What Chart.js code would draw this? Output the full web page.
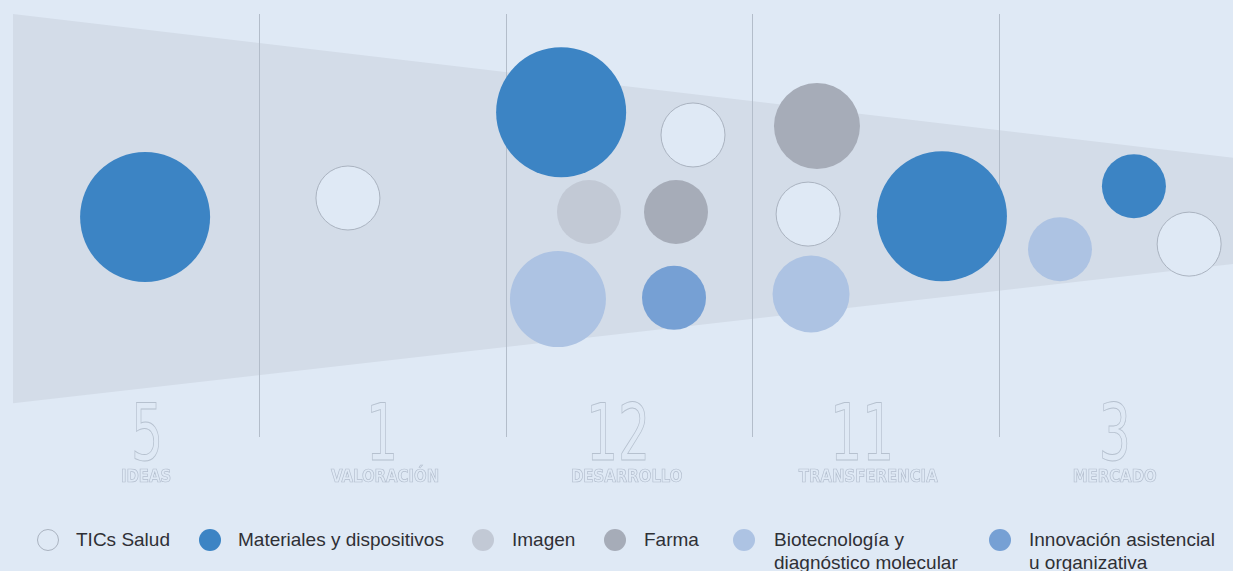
<!DOCTYPE html>
<html><head><meta charset="utf-8">
<script src="https://cdn.jsdelivr.net/npm/chart.js@4.4.1/dist/chart.umd.min.js"></script>
<style>
html,body{margin:0;padding:0;background:#dfe9f5;width:1233px;height:571px;overflow:hidden;}
#wrap{position:relative;width:1233px;height:571px;}
#c{position:absolute;left:0;top:0;}
.lg{position:absolute;font-family:"Liberation Sans",Arial,sans-serif;font-size:19px;line-height:23px;color:#2f3035;white-space:nowrap;}
.mk{position:absolute;width:22px;height:22px;border-radius:50%;box-sizing:border-box;}
</style></head><body>
<div id="wrap"><canvas id="c" width="1233" height="500"></canvas><div id="legend"></div></div>
<script>
// ---- data ----
const stageNames = ['IDEAS','VALORACIÓN','DESARROLLO','TRANSFERENCIA','MERCADO'];
const stageTotals = [5,1,12,11,3];
const stageLabelX = [0.54,1.51,2.49,3.47,4.47];
const stageNumberX = [0.544,1.497,2.455,3.445,4.471];
const dividerX = [1,2,3,4];
const seriesNames = ['TICs Salud','Materiales y dispositivos','Imagen','Farma',['Biotecnología y','diagnóstico molecular'],['Innovación asistencial','u organizativa']];

const ticsX = [1.359,2.759,3.226,4.772];
const ticsY = [5.65,7.14,5.27,4.56];
const ticsR = [32,32,32,32];

const matX = [0.536,2.224,3.769,4.548];
const matY = [5.20,7.68,5.22,5.93];
const matR = [65,65,65,32];

const imgX = [2.337];
const imgY = [5.32];
const imgR = [32];

const farX = [2.690,3.262];
const farY = [5.32,7.35];
const farR = [32,43];

const bioX = [2.211,3.238,4.248];
const bioY = [3.26,3.38,4.44];
const bioR = [48,38.5,32];

const innX = [2.682];
const innY = [3.29];
const innR = [32];

const funnelX = [0,4.95];
const funnelTop = [10,6.6];
const funnelBottom = [0.8,4.09];

// ---- styles ----
const BG = '#dfe9f5';
const colors = [BG,'#3c84c4','#c2c9d5','#a6acb8','#adc3e3','#76a0d4'];
const borders = ['#aab3c0',null,null,null,null,null];

function pts(xs,ys,rs){ return xs.map((x,i)=>({x:x,y:ys[i],r:rs?rs[i]:undefined})); }

const bubbleSets = [[ticsX,ticsY,ticsR],[matX,matY,matR],[imgX,imgY,imgR],[farX,farY,farR],[bioX,bioY,bioR],[innX,innY,innR]];

const datasets = [
  {type:'line',label:'top',data:funnelX.map((x,i)=>({x:x,y:funnelTop[i]})),fill:'+1',backgroundColor:'#d3dce8',borderWidth:0,pointRadius:0,order:10},
  {type:'line',label:'bottom',data:funnelX.map((x,i)=>({x:x,y:funnelBottom[i]})),fill:false,borderWidth:0,pointRadius:0,order:10}
];
bubbleSets.forEach((s,k)=>{
  datasets.push({type:'bubble',label:Array.isArray(seriesNames[k])?seriesNames[k].join(' '):seriesNames[k],
    data:pts(s[0],s[1],s[2]),backgroundColor:colors[k],borderColor:borders[k]||colors[k],
    borderWidth:borders[k]?1:0,order:0});
});

const stagePlugin = {
  id:'stages',
  afterDatasetDraw(chart,args){
    if(args.index!==0) return;
    const ctx=chart.ctx, xs=chart.scales.x, ys=chart.scales.y;
    ctx.save();
    ctx.strokeStyle='#b3bdca'; ctx.lineWidth=1;
    dividerX.forEach(v=>{
      const px=Math.round(xs.getPixelForValue(v))+0.5;
      ctx.beginPath(); ctx.moveTo(px,ys.getPixelForValue(ys.max)); ctx.lineTo(px,ys.getPixelForValue(ys.min)); ctx.stroke();
    });
    ctx.restore();
  },
  afterDraw(chart){
    const ctx=chart.ctx, xs=chart.scales.x;
    ctx.save();
    ctx.textAlign='center'; ctx.textBaseline='alphabetic';
    stageNames.forEach((name,i)=>{
      ctx.save();
      ctx.strokeStyle='#b6c1cf';
      ctx.translate(xs.getPixelForValue(stageNumberX[i]),460); ctx.scale(0.72,1);
      ctx.font='78px "DejaVu Sans Condensed","DejaVu Sans",sans-serif';
      ctx.lineWidth=0.9;
      ctx.strokeText(String(stageTotals[i]),0,0);
      ctx.restore();
      ctx.save();
      ctx.strokeStyle='#b3bece';
      ctx.translate(xs.getPixelForValue(stageLabelX[i]),482); ctx.scale(0.92,1);
      ctx.font='bold 18px "DejaVu Sans Condensed","DejaVu Sans",sans-serif';
      ctx.lineWidth=0.7;
      ctx.strokeText(name,0,0);
      ctx.restore();
    });
    ctx.restore();
  }
};

new Chart(document.getElementById('c'),{
  type:'bubble',
  data:{datasets:datasets},
  options:{
    responsive:false,animation:false,events:[],
    layout:{autoPadding:false,padding:{left:13,right:0,top:14,bottom:63}},
    scales:{
      x:{type:'linear',min:0,max:4.95,display:false},
      y:{type:'linear',min:0,max:10,display:false}
    },
    plugins:{legend:{display:false},tooltip:{enabled:false}}
  },
  plugins:[stagePlugin]
});

// ---- HTML legend ----
const legendMarkX = [48,210,483,615,744,1000];
const legendTextX = [76,238,512,644,774,1029];
const lg=document.getElementById('legend');
seriesNames.forEach((n,k)=>{
  const m=document.createElement('div'); m.className='mk';
  m.style.left=(legendMarkX[k]-11)+'px'; m.style.top='529px';
  m.style.background=colors[k];
  if(borders[k]) m.style.border='1px solid '+borders[k];
  lg.appendChild(m);
  const t=document.createElement('div'); t.className='lg';
  t.style.left=legendTextX[k]+'px'; t.style.top='528px';
  t.innerHTML=(Array.isArray(n)?n:[n]).join('<br>');
  lg.appendChild(t);
});
</script>
</body></html>
